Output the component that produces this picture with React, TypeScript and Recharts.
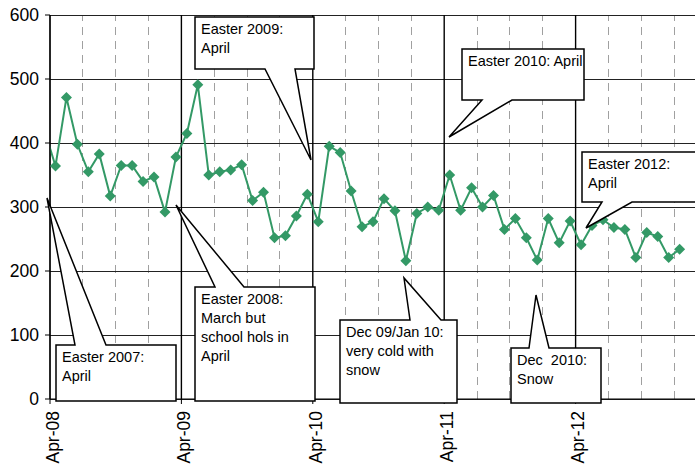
import { LineChart, Line, XAxis, YAxis, CartesianGrid, ReferenceLine } from "recharts";

// monthly figures, first one is Mar-08 (only its stub shows at the left edge)
const values = [
  420,
  364, 471, 398, 355, 383, 317, 365, 365, 340, 347, 292, 378,
  415, 491, 350, 355, 358, 366, 310, 323, 252, 255, 286, 320,
  277, 395, 385, 325, 269, 277, 313, 294, 216, 290, 300, 295,
  350, 295, 330, 300, 318, 265, 282, 252, 217, 282, 244, 278,
  241, 271, 280, 268, 265, 221, 260, 254, 221, 234,
];

const monthNames = ["Jan", "Feb", "Mar", "Apr", "May", "Jun", "Jul", "Aug", "Sep", "Oct", "Nov", "Dec"];
const months = values.map((_, i) => {
  const m = 2 + i; // Mar 2008 = month 2 of 2008
  return monthNames[m % 12] + "-" + String(8 + Math.floor(m / 12)).padStart(2, "0");
});

const yTicks = [0, 100, 200, 300, 400, 500, 600];
const aprTicks = [0, 12, 24, 36, 48];
const aprLabels = ["Apr-08", "Apr-09", "Apr-10", "Apr-11", "Apr-12"];
const quarterLines = [3, 6, 9, 15, 18, 21, 27, 30, 33, 39, 42, 45, 51, 54, 57];

// callout texts and their placement (pixels)
const calloutTexts = [
  ["Easter 2007:", "April"],
  ["Easter 2008:", "March but", "school hols in", "April"],
  ["Dec 09/Jan 10:", "very cold with", "snow"],
  ["Dec  2010:", "Snow"],
  ["Easter 2009:", "April"],
  ["Easter 2010: April"],
  ["Easter 2012:", "April"],
];
const calloutBoxes = [
  { x: 56, y: 345, w: 120, h: 56, side: "top", b1: 75, b2: 106, tx: 47, ty: 198 },
  { x: 195, y: 287, w: 120, h: 114, side: "top", b1: 215, b2: 244, tx: 176, ty: 205 },
  { x: 340, y: 320, w: 117, h: 83, side: "top", b1: 410, b2: 441, tx: 404, ty: 278 },
  { x: 511, y: 348, w: 90, h: 55, side: "top", b1: 529, b2: 549, tx: 536, ty: 295 },
  { x: 195, y: 17, w: 119, h: 52, side: "bottom", b1: 265, b2: 295, tx: 311, ty: 160 },
  { x: 462, y: 49, w: 122, h: 51, side: "bottom", b1: 482, b2: 512, tx: 449, ty: 137 },
  { x: 582, y: 152, w: 130, h: 50, side: "bottom", b1: 602, b2: 632, tx: 586, ty: 228 },
];

const data = values.map((v, i) => ({ month: months[i], t: i - 0.5, value: v }));

const font = "'Liberation Sans', Arial, sans-serif";

function Diamond(props: any) {
  const { cx, cy, index } = props;
  if (index === 0 || cx == null) return <g key={"d" + index} />;
  const r = 5.5;
  return (
    <path
      key={"d" + index}
      d={`M${cx},${cy - r} L${cx + r},${cy} L${cx},${cy + r} L${cx - r},${cy} Z`}
      fill="#339966"
    />
  );
}

function AprTick(props: any) {
  const { x, y, payload } = props;
  const label = aprLabels[aprTicks.indexOf(payload.value)];
  return (
    <text
      x={x}
      y={y}
      transform={`rotate(-90, ${x}, ${y})`}
      textAnchor="end"
      dy="0.5em"
      fontSize={17.5}
      fontFamily={font}
      fill="#000"
    >
      {label}
    </text>
  );
}

function calloutPath(b: any) {
  const { x, y, w, h, b1, b2, tx, ty } = b;
  if (b.side === "top") {
    return `M${x},${y} L${b1},${y} L${tx},${ty} L${b2},${y} L${x + w},${y} L${x + w},${y + h} L${x},${y + h} Z`;
  }
  return `M${x},${y} L${x + w},${y} L${x + w},${y + h} L${b2},${y + h} L${tx},${ty} L${b1},${y + h} L${x},${y + h} Z`;
}

export default function App() {
  return (
    <div style={{ position: "absolute", left: 0, top: 0, width: 695, height: 464, overflow: "hidden", background: "#fff" }}>
      <LineChart width={720} height={464} data={data} margin={{ top: 15, right: 13, bottom: 0, left: 0 }}>
        <CartesianGrid vertical={false} horizontal={false} />
        {quarterLines.map((q) => (
          <ReferenceLine key={"q" + q} x={q} stroke="#a0a0a0" strokeDasharray="8 6" shapeRendering="crispEdges" />
        ))}
        {yTicks.map((v) => (
          <ReferenceLine key={"h" + v} y={v} stroke="#222" shapeRendering="crispEdges" />
        ))}
        {aprTicks.map((a) => (
          <ReferenceLine key={"a" + a} x={a} stroke="#000" strokeWidth={1.4} />
        ))}
        <XAxis
          dataKey="t"
          type="number"
          domain={[0, 60]}
          allowDataOverflow
          ticks={aprTicks}
          interval={0}
          height={65}
          tick={<AprTick />}
          tickSize={5}
          tickMargin={7}
          axisLine={{ stroke: "#000" }}
          tickLine={{ stroke: "#000" }}
        />
        <YAxis
          domain={[0, 600]}
          ticks={yTicks}
          width={50}
          tickSize={5}
          tickMargin={6}
          axisLine={{ stroke: "#000" }}
          tickLine={{ stroke: "#000" }}
          tick={{ fontSize: 17.5, fontFamily: font, fill: "#000" }}
        />
        <Line
          dataKey="value"
          stroke="#339966"
          strokeWidth={2}
          dot={Diamond}
          activeDot={false}
          isAnimationActive={false}
        />
      </LineChart>
      <svg width={695} height={464} style={{ position: "absolute", left: 0, top: 0, pointerEvents: "none" }}>
        {calloutBoxes.map((b, i) => (
          <g key={i}>
            <path d={calloutPath(b)} fill="#fff" stroke="#000" strokeWidth={1.5} strokeLinejoin="miter" />
            {calloutTexts[i].map((line, j) => (
              <text
                key={j}
                x={b.x + 6}
                y={b.y + 17 + j * 19}
                fontSize={14.5}
                fontFamily={font}
                fill="#000"
                style={{ whiteSpace: "pre" }}
              >
                {line}
              </text>
            ))}
          </g>
        ))}
      </svg>
    </div>
  );
}
